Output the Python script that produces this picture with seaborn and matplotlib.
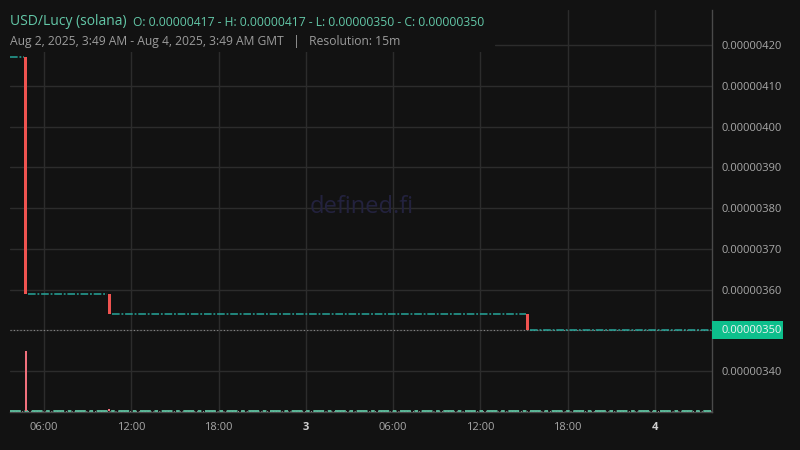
import matplotlib
matplotlib.use("Agg")
import matplotlib.pyplot as plt
import matplotlib.dates as mdates
from matplotlib.patches import Rectangle
import pandas as pd
import seaborn as sns

# ---------------- data ----------------
candle_times = ["2025-08-02 04:45", "2025-08-02 10:30", "2025-08-03 15:15"]
candle_open = [4.17e-6, 3.59e-6, 3.54e-6]
candle_close = [3.59e-6, 3.54e-6, 3.50e-6]
candle_volume = [30.0, 1.0, 0.0]

flat_start = ["2025-08-02 03:45", "2025-08-02 05:00", "2025-08-02 10:45", "2025-08-03 15:30"]
flat_end = ["2025-08-02 04:30", "2025-08-02 10:15", "2025-08-03 15:00", "2025-08-04 03:45"]
flat_price = [4.17e-6, 3.59e-6, 3.54e-6, 3.50e-6]

last_price = 3.50e-6
price_ticks = [3.40e-6, 3.60e-6, 3.70e-6, 3.80e-6, 3.90e-6, 4.00e-6, 4.10e-6, 4.20e-6]
grid_prices = [3.40e-6, 3.50e-6, 3.60e-6, 3.70e-6, 3.80e-6, 3.90e-6, 4.00e-6, 4.10e-6]
time_ticks = ["2025-08-02 06:00", "2025-08-02 12:00", "2025-08-02 18:00", "2025-08-03 00:00",
              "2025-08-03 06:00", "2025-08-03 12:00", "2025-08-03 18:00", "2025-08-04 00:00"]
time_labels = ["06:00", "12:00", "18:00", "3", "06:00", "12:00", "18:00", "4"]
x_range = ["2025-08-02 03:40", "2025-08-04 03:55"]

title = "USD/Lucy (solana)"
ohlc_text = "O: 0.00000417 - H: 0.00000417 - L: 0.00000350 - C: 0.00000350"
sub_text = "Aug 2, 2025, 3:49 AM - Aug 4, 2025, 3:49 AM GMT   |   Resolution: 15m"

# ---------------- style ----------------
BG = "#121212"
GRID = "#2c2c2c"
SPINE = "#4a4a4a"
RED = "#ef5350"
TEAL = "#26a69a"
TXT = "#a8a8a8"

sns.set_theme(style="dark")
plt.rcParams["font.family"] = ["Open Sans", "DejaVu Sans"]

fig = plt.figure(figsize=(8, 4.5), dpi=100, facecolor=BG)
ax = fig.add_axes([10 / 800, 38 / 450, 702 / 800, 402 / 450])
ax.set_facecolor(BG)

d = lambda s: mdates.date2num(pd.to_datetime(s))
ct = [d(t) for t in candle_times]
fs = [d(t) for t in flat_start]
fe = [d(t) for t in flat_end]
half = 6 / 1440  # half candle width (days)

# grid
for g in grid_prices:
    ax.axhline(g, color=GRID, lw=1, zorder=0.5)
ax.axhline(4.20e-6, xmin=485 / 702, xmax=1, color=GRID, lw=1, zorder=0.5)
for t in time_ticks:
    ax.axvline(d(t), color=GRID, lw=1, zorder=0.5)

# cover region for header
ax.add_patch(Rectangle((0, 1 - 42 / 402), 485 / 702, 42 / 402, transform=ax.transAxes,
                       facecolor=BG, edgecolor="none", zorder=0.8))

# last price line
ax.axhline(last_price, color="#8a8a8a", lw=0.8, ls=(0, (1, 2)), zorder=1)

# flat candles
for s, e, p in zip(fs, fe, flat_price):
    ax.hlines(p, s - half, e + half, color=TEAL, lw=1.1, ls=(0, (5, 1.2, 1.2, 1.2)), zorder=2)

# candle bodies
for t, o, c in zip(ct, candle_open, candle_close):
    col = RED if c < o else TEAL
    ax.bar(t, o - c, bottom=c, width=2 * half, color=col, edgecolor="none", zorder=3)

ax.set_xlim(d(x_range[0]), d(x_range[1]))
ax.set_ylim(3.2994e-6, 4.286e-6)

# volume pane
ax2 = ax.twinx()
ax2.set_ylim(-0.5, max(candle_volume) / 0.149)
ax2.axhline(0, color="#9a9a9a", lw=0.7, ls=(0, (1, 2)), zorder=1)
ax2.hlines(0, fs[0] - half, fe[-1] + half, color="#5fc2a0", lw=1.3,
           ls=(0, (6, 2, 2, 2)), zorder=2)
for t, v in zip(ct, candle_volume):
    if v > 0:
        ax2.bar(t, v, width=8 / 1440, color="#f0707c", edgecolor="none", zorder=3)
ax2.set_yticks([])
ax2.grid(False)
for sp in ax2.spines.values():
    sp.set_visible(False)

# axes styling
ax.grid(False)
for sp in ["left", "top"]:
    ax.spines[sp].set_visible(False)
for sp in ["right", "bottom"]:
    ax.spines[sp].set_color(SPINE)
    ax.spines[sp].set_linewidth(1)
ax.yaxis.tick_right()
ax.set_yticks(price_ticks)
ax.set_yticklabels([f"{v:.8f}" for v in price_ticks])
ax.tick_params(axis="y", length=0, pad=7, labelsize=8, colors=TXT)
ax.set_xticks([d(t) for t in time_ticks])
ax.set_xticklabels(time_labels)
ax.tick_params(axis="x", length=0, pad=7, labelsize=8, colors=TXT)
for lab in ax.get_xticklabels():
    if lab.get_text() in ("3", "4"):
        lab.set_fontweight("bold")
        lab.set_color("#d0d0d0")

# last price label box
box_h = 18 / 402 * (4.286e-6 - 3.2994e-6)
ax.add_patch(Rectangle((1.0, last_price - box_h / 2), 71 / 702, box_h,
                       transform=ax.get_yaxis_transform(), facecolor="#0dbf8c",
                       edgecolor="none", clip_on=False, zorder=5))
ax.annotate(f"{last_price:.8f}", xy=(1.0, last_price), xycoords=ax.get_yaxis_transform(),
            xytext=(7.2, 0), textcoords="offset points", ha="left", va="center",
            fontsize=8, color="#f2f2f2", zorder=6, annotation_clip=False)

# watermark
ax.text(0.501, 0.51, "defined.fi", transform=ax.transAxes, ha="center", va="center",
        fontsize=17, color="#23223e", zorder=0.6)

# header
t1 = fig.text(10 / 800, 1 - 25 / 450, title, ha="left", va="baseline",
              fontsize=10, color="#63c8a8")
plt.annotate(ohlc_text, xy=(1, 0), xycoords=t1, xytext=(4.5, 0),
             textcoords="offset points", ha="left", va="bottom",
             fontsize=8.7, color="#63c8a8")
fig.text(10 / 800, 1 - 45 / 450, sub_text, ha="left", va="baseline",
         fontsize=8.7, color="#9c9c9c")

fig.savefig("out.png", dpi=100, facecolor=BG)
